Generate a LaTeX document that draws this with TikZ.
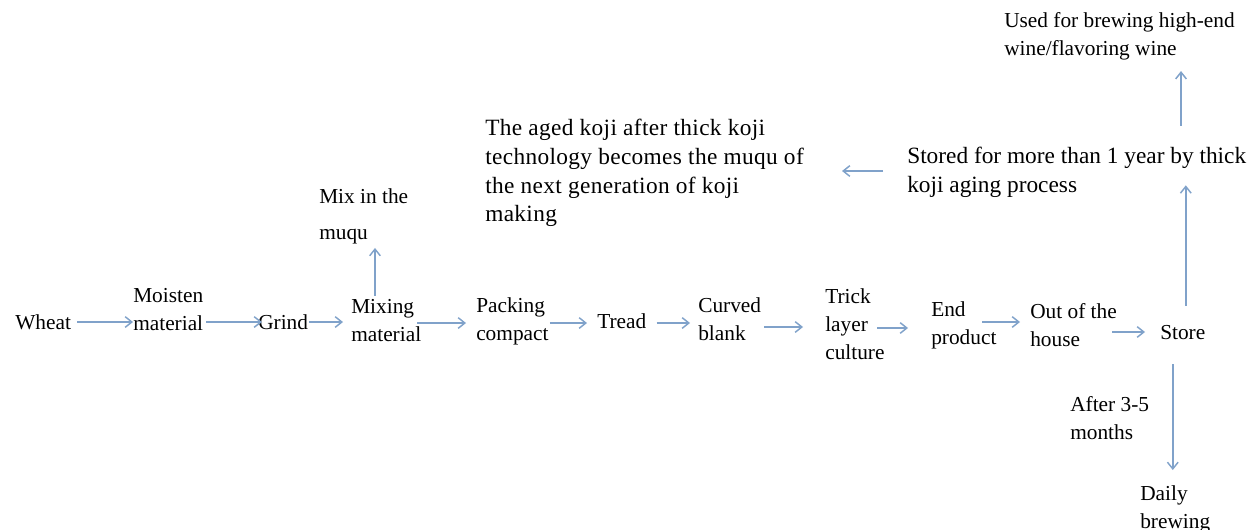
\documentclass[tikz,border=0pt]{standalone}
\usepackage{fontspec}
\setmainfont{Liberation Serif}
\usetikzlibrary{arrows.meta,calc}
\definecolor{arr}{RGB}{128,162,202}
\begin{document}
\begin{tikzpicture}[x=0.75pt,y=-0.75pt,
  lbl/.style={inner sep=0pt, align=left, font=\fontsize{16}{21}\selectfont, anchor=west},
  big/.style={lbl, font=\fontsize{17.5}{21.5}\selectfont},
  flow/.style={draw=arr, line width=1.1pt, -{Straight Barb[length=5pt,width=8pt]}}]
\useasboundingbox (0,0) rectangle (1252,529);
\fill[white] (0,0) rectangle (1252,529);
% main row
\node[lbl] (wheat)  at (15,322)  {Wheat};
\node[lbl] (moist)  at (133,310) {Moisten\\material};
\node[lbl] (grind)  at (258,322) {Grind};
\node[lbl] (mixm)   at (351,321) {Mixing\\material};
\node[lbl] (pack)   at (476,321) {Packing\\compact};
\node[lbl] (tread)  at (597,321) {Tread};
\node[lbl] (curved) at (698,319) {Curved\\blank};
\node[lbl] (trick)  at (825,324) {Trick\\layer\\culture};
\node[lbl] (endp)   at (931,325) {End\\product};
\node[lbl] (out)    at (1030,325) {Out of the\\house};
\node[lbl] (store)  at (1160,333) {Store};
% branches
\node[lbl] (mixq)   at (319,216) {Mix in the\\[6pt]muqu};
\node[big] (stored) at (907,172) {Stored for more than 1 year by thick\\koji aging process};
\node[big] (aged)   at (485,173) {\addfontfeatures{LetterSpace=1.5}The aged koji after thick koji\\\addfontfeatures{LetterSpace=1.5}technology becomes the muqu of\\\addfontfeatures{LetterSpace=1.5}the next generation of koji\\\addfontfeatures{LetterSpace=1.5}making};
\node[lbl] (used)   at (1004,36) {Used for brewing high-end\\wine/flavoring wine};
\node[lbl] (after)  at (1070,418) {After 3-5\\months};
\node[lbl] (daily)  at (1140,509) {Daily\\brewing};
% connectors
\draw[flow] ($(wheat.east)+(6,0)$) -- (wheat.east -| moist.west);
\draw[flow] ($(grind.west -| moist.east)+(3,0)$) -- ($(grind.west)+(4,0)$);
\draw[flow] ($(grind.east)+(1,0)$) -- ($(grind.east -| mixm.west)+(-8,0)$);
\draw[flow] ($(mixm.east)+(-4,2)$) -- ($(mixm.east -| pack.west)+(-10,2)$);
\draw[flow] ($(pack.east)+(1,2)$) -- ($(pack.east -| tread.west)+(-10,2)$);
\draw[flow] ($(tread.east)+(10,2)$) -- ($(tread.east -| curved.west)+(-8,2)$);
\draw[flow] ($(curved.east)+(3,8)$) -- ($(curved.east -| trick.west)+(-22,8)$);
\draw[flow] ($(trick.west)+(52,4)$) -- ($(trick.west -| endp.west)+(-23,4)$);
\draw[flow] ($(endp.west)+(51,-3)$) -- ($(endp.west -| out.west)+(-10,-3)$);
\draw[flow] ($(out.east)+(-5,7)$) -- ($(out.east -| store.west)+(-15,7)$);
\draw[flow] ($(mixm.north west)+(24,-4)$) -- ($(mixq.south west)+(56,4)$);
\draw[flow] ($(store.north)+(3,-20)$) -- ($(stored.south -| store.north)+(3,-12)$);
\draw[flow] ($(stored.west)+(-24,-1)$) -- ($(stored.west -| aged.east)+(38,-1)$);
\draw[flow] ($(stored.north west)+(274,-21)$) -- ($(used.south -| stored.north west)+(274,11)$);
\draw[flow] ($(store.south)+(-10,24)$) -- ($(daily.north -| store.south)+(-10,-15)$);
\end{tikzpicture}
\end{document}
